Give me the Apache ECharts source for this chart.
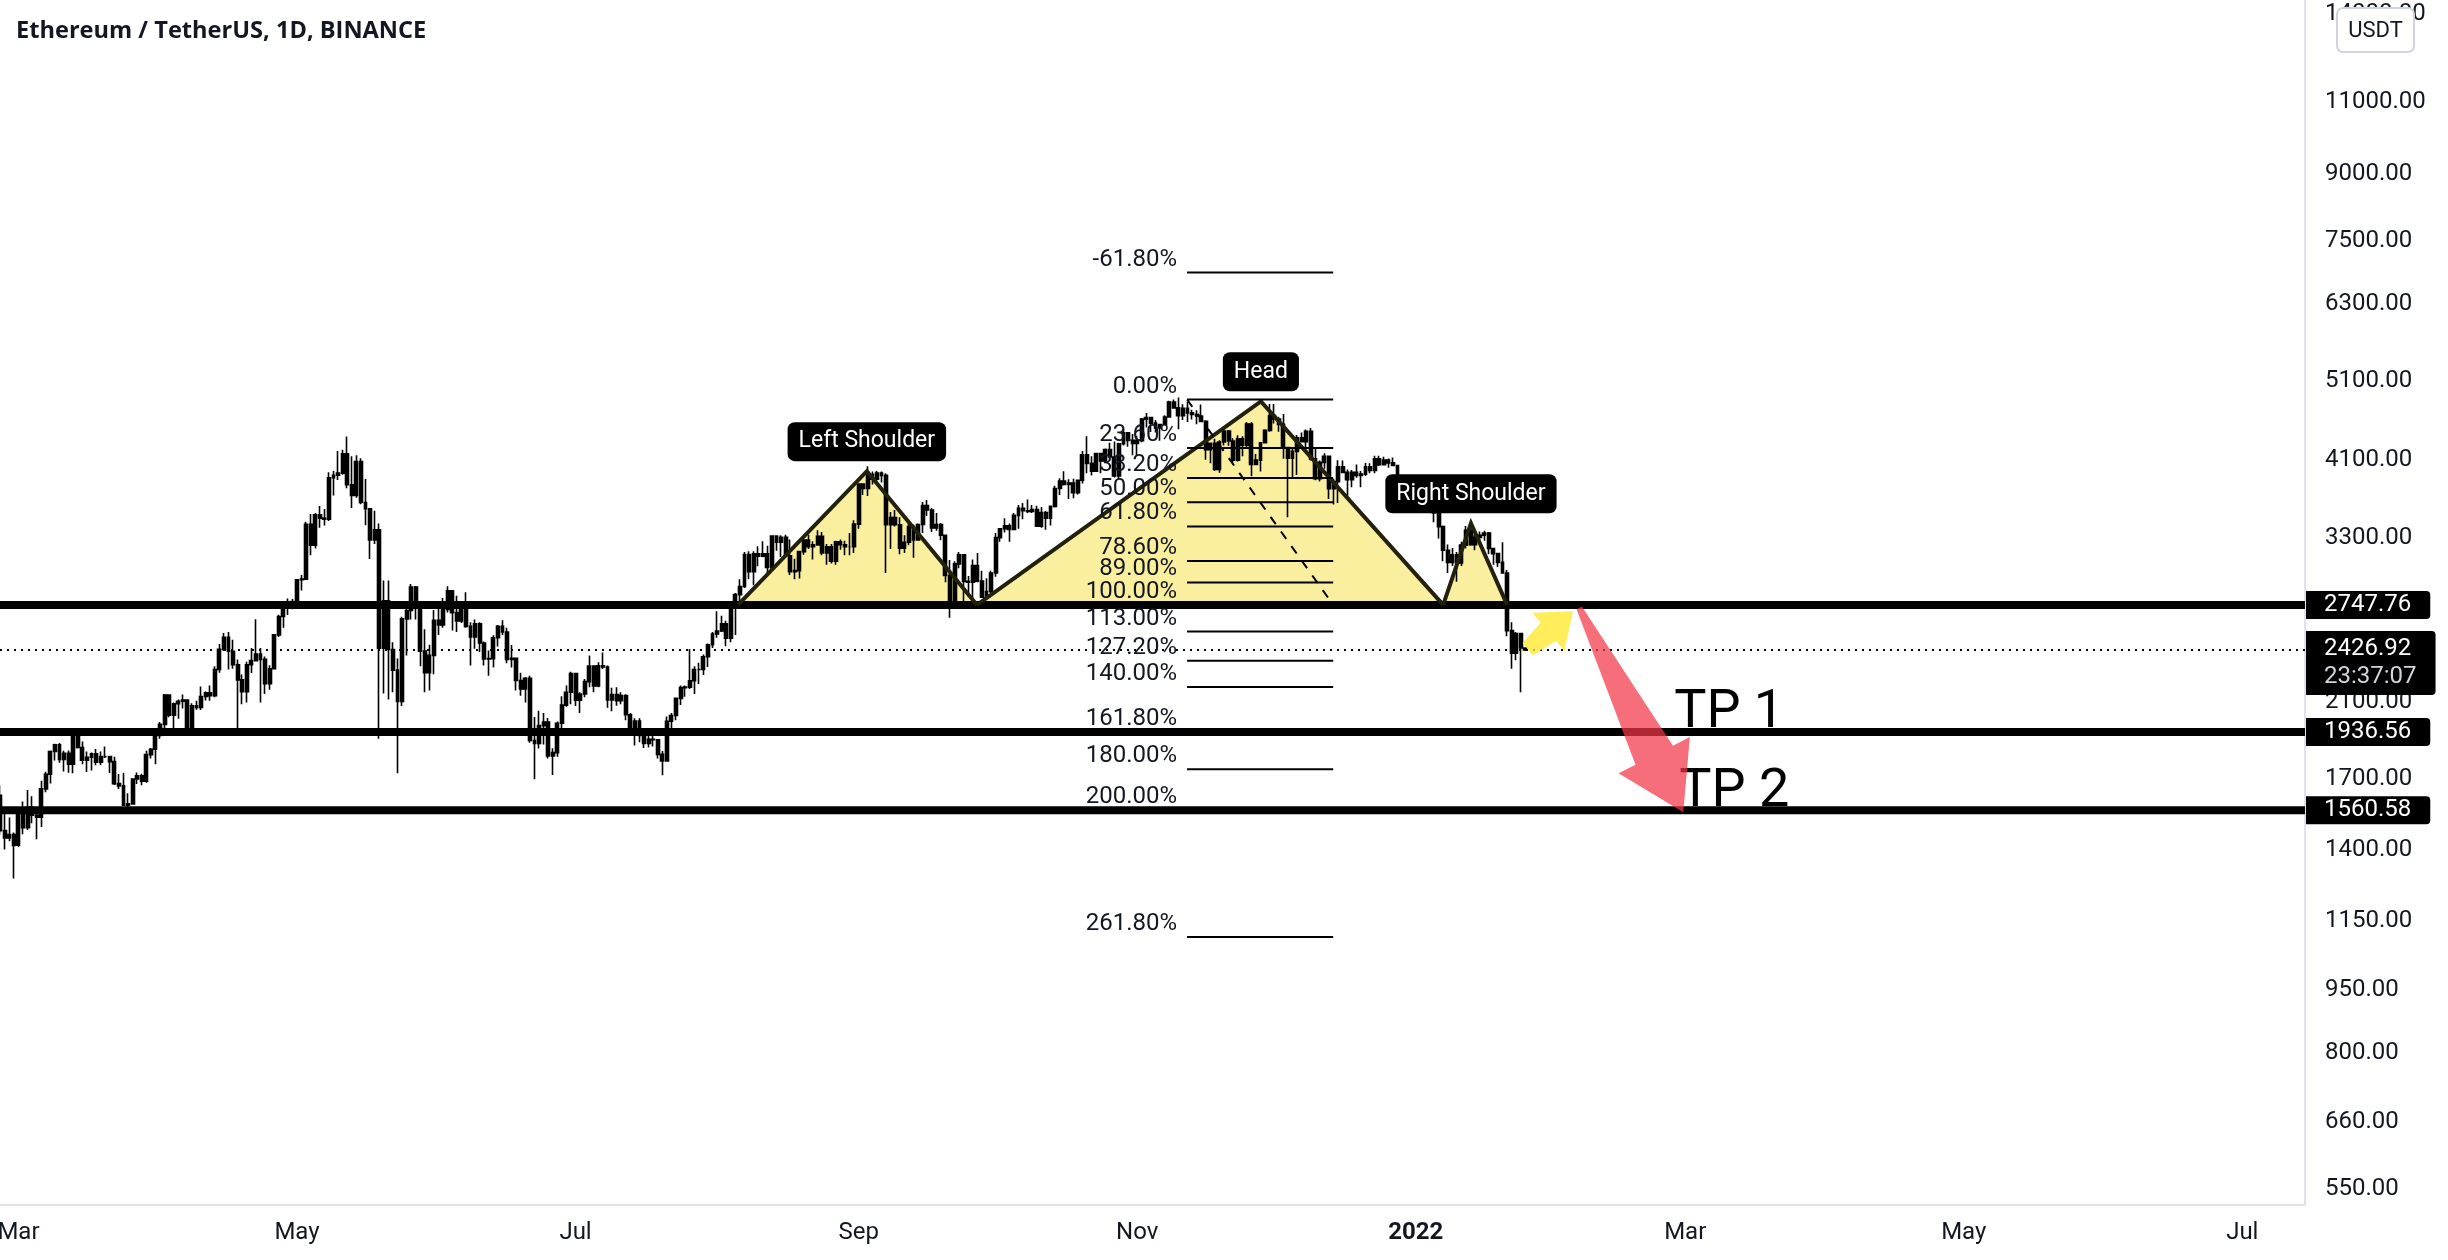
<!DOCTYPE html>
<html><head><meta charset="utf-8">
<script src="https://cdn.jsdelivr.net/npm/echarts@6/dist/echarts.min.js"></script>
<style>html,body{margin:0;padding:0;background:#fff}#c{width:2448px;height:1260px}</style>
</head><body><div id="c"></div>
<script>
// ---- daily candles ETH/USDT: [day, open, high, low, close]
const feb2021 = [[25,1626,1672,1458,1475],[26,1475,1559,1400,1446],[27,1446,1530,1433,1459],[28,1459,1468,1293,1416]];
const mar2021 = [[1,1417,1573,1410,1565],[2,1565,1598,1461,1487],[3,1487,1650,1478,1573],[4,1573,1622,1505,1539],[5,1539,1546,1441,1531],[6,1531,1692,1490,1655],[7,1655,1735,1640,1723],[8,1723,1840,1680,1835],[9,1835,1874,1790,1869],[10,1869,1878,1779,1795],[11,1795,1838,1736,1825],[12,1825,1840,1730,1771],[13,1771,1947,1728,1924],[14,1924,1935,1850,1855],[15,1855,1886,1771,1791],[16,1791,1834,1734,1806],[17,1806,1830,1741,1823],[18,1823,1847,1766,1781],[19,1781,1835,1768,1809],[20,1809,1860,1802,1809],[21,1809,1813,1729,1784],[22,1784,1808,1673,1679],[23,1679,1724,1655,1669],[24,1669,1730,1580,1582],[25,1582,1635,1546,1588],[26,1588,1700,1585,1701],[27,1701,1732,1678,1716],[28,1716,1726,1672,1691],[29,1691,1838,1683,1819],[30,1819,1852,1800,1846],[31,1846,1948,1771,1918]];
const apr2021 = [[1,1918,1990,1900,1977],[2,1977,2150,1951,2143],[3,2143,2145,2016,2028],[4,2028,2100,1955,2093],[5,2093,2118,2008,2107],[6,2107,2147,2065,2114],[7,2114,2119,1932,1962],[8,1962,2095,1962,2081],[9,2081,2110,2059,2071],[10,2071,2195,2057,2135],[11,2135,2165,2112,2157],[12,2157,2200,2110,2139],[13,2139,2320,2130,2300],[14,2300,2468,2280,2431],[15,2431,2544,2420,2513],[16,2513,2550,2300,2418],[17,2418,2497,2305,2330],[18,2330,2364,1950,2235],[19,2235,2268,2090,2163],[20,2163,2350,2100,2330],[21,2330,2440,2278,2357],[22,2357,2641,2354,2400],[23,2400,2440,2100,2365],[24,2365,2383,2150,2212],[25,2212,2327,2175,2305],[26,2305,2535,2300,2530],[27,2530,2675,2516,2662],[28,2662,2760,2580,2745],[29,2745,2797,2672,2757],[30,2757,2793,2715,2773]];
const may2021 = [[1,2773,2950,2768,2945],[2,2945,2985,2860,2950],[3,2950,3455,2948,3431],[4,3431,3530,3150,3240],[5,3240,3540,3210,3522],[6,3522,3610,3400,3490],[7,3490,3580,3420,3481],[8,3481,3960,3462,3902],[9,3902,3975,3715,3928],[10,3928,4200,3876,3951],[11,3951,4215,3933,4168],[12,4168,4372,3790,3826],[13,3826,4140,3589,3716],[14,3716,4150,3691,4080],[15,4080,4116,3627,3644],[16,3644,3888,3422,3582],[17,3582,3585,3118,3286],[18,3286,3561,3250,3381],[19,3381,3440,1900,2439],[20,2439,2940,2152,2780],[21,2780,2940,2118,2430],[22,2430,2479,2160,2296],[23,2296,2370,1728,2106],[24,2106,2660,2080,2644],[25,2644,2750,2390,2706],[26,2706,2910,2640,2887],[27,2887,2895,2639,2742],[28,2742,2760,2320,2419],[29,2419,2570,2160,2280],[30,2280,2462,2170,2391],[31,2391,2710,2270,2633]];
const jun2021 = [[1,2633,2740,2530,2600],[2,2600,2800,2580,2713],[3,2713,2892,2691,2856],[4,2856,2858,2560,2690],[5,2690,2818,2550,2630],[6,2630,2748,2614,2712],[7,2712,2845,2580,2590],[8,2590,2620,2325,2516],[9,2516,2640,2435,2609],[10,2609,2620,2413,2474],[11,2474,2485,2326,2367],[12,2367,2424,2260,2370],[13,2370,2527,2313,2510],[14,2510,2600,2450,2590],[15,2590,2635,2530,2550],[16,2550,2580,2340,2364],[17,2364,2460,2312,2372],[18,2372,2374,2170,2231],[19,2231,2280,2140,2180],[20,2180,2253,2100,2244],[21,2244,2260,1880,1891],[22,1891,2017,1700,1876],[23,1876,2052,1850,1970],[24,1970,2040,1870,1990],[25,1990,2012,1800,1812],[26,1812,1851,1720,1829],[27,1829,1993,1808,1983],[28,1983,2137,1933,2085],[29,2085,2200,2075,2160],[30,2160,2285,2090,2275]];
const jul2021 = [[1,2275,2278,2080,2113],[2,2113,2160,2040,2150],[3,2150,2240,2130,2224],[4,2224,2390,2190,2322],[5,2322,2325,2160,2198],[6,2198,2347,2190,2323],[7,2323,2410,2303,2316],[8,2316,2325,2070,2115],[9,2115,2187,2050,2147],[10,2147,2190,2081,2110],[11,2110,2160,2090,2140],[12,2140,2148,2000,2030],[13,2030,2040,1920,1940],[14,1940,2010,1865,1995],[15,1995,2010,1882,1917],[16,1917,1955,1853,1876],[17,1876,1930,1855,1898],[18,1898,1940,1860,1895],[19,1895,1898,1800,1820],[20,1820,1837,1718,1787],[21,1787,2020,1785,1994],[22,1994,2040,1950,2026],[23,2026,2129,2000,2124],[24,2124,2200,2085,2188],[25,2188,2200,2133,2191],[26,2191,2433,2180,2230],[27,2230,2320,2150,2300],[28,2300,2343,2210,2300],[29,2300,2397,2265,2382],[30,2382,2470,2315,2462],[31,2462,2550,2440,2536]];
const aug2021 = [[1,2536,2700,2510,2557],[2,2557,2667,2550,2608],[3,2608,2630,2452,2507],[4,2507,2765,2480,2725],[5,2725,2840,2530,2827],[6,2827,2950,2722,2891],[7,2891,3180,2880,3157],[8,3157,3185,2950,3012],[9,3012,3185,2900,3164],[10,3164,3230,3056,3142],[11,3142,3275,3134,3164],[12,3164,3235,2985,3046],[13,3046,3330,3029,3322],[14,3322,3330,3190,3266],[15,3266,3330,3136,3310],[16,3310,3335,3135,3146],[17,3146,3290,2985,3012],[18,3012,3120,2950,3020],[19,3020,3190,2955,3183],[20,3183,3295,3155,3285],[21,3285,3335,3205,3225],[22,3225,3275,3115,3242],[23,3242,3375,3234,3320],[24,3320,3360,3150,3172],[25,3172,3250,3070,3225],[26,3225,3250,3080,3100],[27,3100,3280,3070,3270],[28,3270,3290,3200,3244],[29,3244,3280,3150,3225],[30,3225,3350,3150,3225],[31,3225,3470,3170,3433]];
const sep2021 = [[1,3433,3840,3390,3834],[2,3834,3840,3720,3788],[3,3788,4027,3710,3937],[4,3937,3970,3830,3887],[5,3887,3975,3860,3952],[6,3952,3970,3850,3927],[7,3927,3950,3000,3428],[8,3428,3550,3205,3496],[9,3496,3570,3410,3427],[10,3427,3500,3160,3212],[11,3212,3330,3170,3266],[12,3266,3440,3240,3410],[13,3410,3430,3130,3286],[14,3286,3440,3280,3430],[15,3430,3650,3350,3614],[16,3614,3670,3510,3569],[17,3569,3590,3360,3398],[18,3398,3540,3370,3430],[19,3430,3445,3285,3330],[20,3330,3330,2925,2980],[21,2980,3110,2652,2764],[22,2764,3100,2738,3077],[23,3077,3180,3040,3155],[24,3155,3160,2750,2932],[25,2932,2975,2810,2926],[26,2926,3115,2740,3063],[27,3063,3170,2925,2934],[28,2934,3020,2800,2807],[29,2807,2957,2790,2851],[30,2851,3020,2840,3001]];
const oct2021 = [[1,3001,3350,2970,3308],[2,3308,3395,3270,3390],[3,3390,3490,3355,3418],[4,3418,3440,3270,3384],[5,3384,3540,3380,3517],[6,3517,3620,3390,3586],[7,3586,3640,3480,3562],[8,3562,3675,3540,3556],[9,3556,3620,3540,3574],[10,3574,3611,3410,3414],[11,3414,3600,3400,3545],[12,3545,3560,3380,3490],[13,3490,3615,3420,3605],[14,3605,3815,3595,3788],[15,3788,3895,3720,3865],[16,3865,3972,3820,3829],[17,3829,3885,3680,3845],[18,3845,3890,3686,3745],[19,3745,3880,3724,3875],[20,3875,4200,3840,4156],[21,4156,4375,3950,4059],[22,4059,4140,3925,3972],[23,3972,4170,3963,4170],[24,4170,4180,3950,4085],[25,4085,4230,4070,4217],[26,4217,4295,4126,4131],[27,4131,4310,3903,3921],[28,3921,4295,3880,4285],[29,4285,4460,4265,4417],[30,4417,4420,4250,4325],[31,4325,4400,4150,4288]];
const nov2021 = [[1,4288,4380,4155,4321],[2,4321,4600,4302,4586],[3,4586,4665,4480,4605],[4,4605,4610,4425,4535],[5,4535,4575,4420,4476],[6,4476,4525,4320,4518],[7,4518,4635,4515,4612],[8,4612,4825,4605,4808],[9,4808,4840,4720,4730],[10,4730,4868,4460,4630],[11,4630,4778,4575,4725],[12,4725,4810,4550,4665],[13,4665,4705,4580,4645],[14,4645,4700,4520,4626],[15,4626,4775,4545,4557],[16,4557,4570,4100,4216],[17,4216,4300,4060,4289],[18,4289,4345,3975,3991],[19,3991,4325,3956,4305],[20,4305,4455,4265,4436],[21,4436,4450,4260,4318],[22,4318,4350,4062,4094],[23,4094,4385,4080,4344],[24,4344,4374,4140,4268],[25,4268,4550,4245,4525],[26,4525,4550,3918,4046],[27,4046,4165,4038,4096],[28,4096,4300,3970,4296],[29,4296,4460,4290,4445],[30,4445,4780,4430,4632]];
const dec2021 = [[1,4632,4780,4530,4587],[2,4587,4615,4430,4519],[3,4519,4650,4110,4240],[4,4240,4240,3500,4118],[5,4118,4225,3900,4195],[6,4195,4390,3930,4355],[7,4355,4420,4300,4310],[8,4310,4455,4200,4433],[9,4433,4475,4090,4110],[10,4110,4225,3875,3890],[11,3890,4090,3860,4070],[12,4070,4175,3998,4140],[13,4140,4140,3680,3785],[14,3785,3890,3625,3860],[15,3860,4095,3640,4020],[16,4020,4090,3950,3960],[17,3960,3990,3690,3880],[18,3880,3985,3800,3960],[19,3960,4045,3900,3925],[20,3925,3975,3800,3940],[21,3940,4063,3920,4020],[22,4020,4060,3950,3980],[23,3980,4145,3950,4110],[24,4110,4145,4030,4045],[25,4045,4135,4040,4095],[26,4095,4115,4010,4065],[27,4065,4125,4030,4035],[28,4035,4040,3760,3795],[29,3795,3830,3600,3630],[30,3630,3765,3590,3715],[31,3715,3815,3620,3680]];
const jan2022 = [[1,3680,3775,3680,3765],[2,3765,3855,3720,3830],[3,3830,3835,3695,3760],[4,3760,3878,3725,3790],[5,3790,3845,3450,3540],[6,3540,3545,3300,3410],[7,3410,3420,3100,3195],[8,3195,3245,3000,3090],[9,3090,3215,3060,3155],[10,3155,3180,2930,3085],[11,3085,3270,3060,3240],[12,3240,3415,3210,3375],[13,3375,3400,3235,3245],[14,3245,3335,3195,3310],[15,3310,3365,3280,3330],[16,3330,3370,3280,3350],[17,3350,3360,3160,3210],[18,3210,3215,3070,3165],[19,3165,3170,3050,3090],[20,3090,3265,3000,3000],[21,3000,3025,2520,2560],[22,2560,2620,2305,2405],[23,2405,2550,2360,2540],[24,2540,2545,2160,2440],[25,2440,2445,2420,2427]];
const monthBlocks = [['2021-02',feb2021],['2021-03',mar2021],['2021-04',apr2021],['2021-05',may2021],['2021-06',jun2021],['2021-07',jul2021],['2021-08',aug2021],['2021-09',sep2021],['2021-10',oct2021],['2021-11',nov2021],['2021-12',dec2021],['2022-01',jan2022]];

// ---- axes
const yTicks = [550,660,800,950,1150,1400,1700,2100,3300,4100,5100,6300,7500,9000,11000,14000];
const xTicks = ['2021-03-01','2021-05-01','2021-07-01','2021-09-01','2021-11-01','2022-01-01','2022-03-01','2022-05-01','2022-07-01'];
const monthNames = ['Jan','Feb','Mar','Apr','May','Jun','Jul','Aug','Sep','Oct','Nov','Dec'];
const xRange = ['2021-02-24T23:02Z','2022-07-14T17:32Z'];
const yRange = [525.7, 14556];

// ---- levels / annotations
const hLevels = [2747.76, 1936.56, 1560.58];
const currentPrice = 2426.92;
const countdown = '23:37:07';
const patternTriangles = [
  [['2021-08-05T14:00Z',2747.76],['2021-09-02T19:00Z',3973],['2021-09-26T22:00Z',2747.76]],
  [['2021-09-26T22:00Z',2747.76],['2021-11-28T02:00Z',4816],['2022-01-07T00:00Z',2747.76]],
  [['2022-01-07T00:00Z',2747.76],['2022-01-13T02:00Z',3441],['2022-01-21T00:00Z',2747.76]]
];
const patternLabels = [['Left Shoulder','2021-09-02T19:00Z',3973],['Head','2021-11-28T02:00Z',4816],['Right Shoulder','2022-01-13T02:00Z',3441]];
const fibRange = ['2021-11-11T22:00Z','2021-12-13T22:00Z'];
const fibLabels = ['-61.80%','0.00%','23.60%','38.20%','50.00%','61.80%','78.60%','89.00%','100.00%','113.00%','127.20%','140.00%','161.80%','180.00%','200.00%','261.80%'];
const fibPrices = [6867,4840,4235,3899,3647,3411,3102,2924,2747.76,2553,2356,2191,1937,1747,1560,1100];
const fibTrend = [['2021-11-11T22:00Z',4840],['2021-12-13T22:00Z',2747.76]];
const yellowArrow = [['2022-01-25T12:00Z',2432],['2022-02-04T10:00Z',2700]];
const redArrow = [['2022-02-05T19:00Z',2725],['2022-02-28T14:00Z',1552]];
const tpLabels = [['TP 1','2022-02-26T14:00Z',1936.56],['TP 2','2022-02-27T17:00Z',1560.58]];

// ---- build
const T = s => Date.parse(s.length === 10 ? s + 'T00:00:00Z' : s);
const candles = [];
monthBlocks.forEach(([ym, rows]) => rows.forEach(r => {
  const t = T(ym + '-' + String(r[0]).padStart(2,'0'));
  candles.push([t, r[1], r[4], r[3], r[2]]);
}));

const FONT = 'Roboto, "Noto Sans", sans-serif';
const chart = echarts.init(document.getElementById('c'), null, {renderer:'canvas'});

function arrowPoints(p0, p1, w0, w1, hw, hl) {
  const dx = p1[0]-p0[0], dy = p1[1]-p0[1], L = Math.hypot(dx,dy);
  const ux = dx/L, uy = dy/L, nx = -uy, ny = ux;
  const bx = p1[0]-ux*hl, by = p1[1]-uy*hl;
  return [[p0[0]+nx*w0/2, p0[1]+ny*w0/2],[bx+nx*w1/2, by+ny*w1/2],[bx+nx*hw/2, by+ny*hw/2],p1,
          [bx-nx*hw/2, by-ny*hw/2],[bx-nx*w1/2, by-ny*w1/2],[p0[0]-nx*w0/2, p0[1]-ny*w0/2]];
}

const option = {
  animation: false,
  backgroundColor: '#fff',
  title: {text:'Ethereum / TetherUS, 1D, BINANCE', left: 11, top: 14,
    textStyle:{fontFamily:'"Open Sans", sans-serif', fontWeight:'bold', fontSize:23.6, color:'#131722'}},
  grid: {left:0, right:143, top:0, bottom:55, containLabel:false, outerBoundsMode:'none'},
  xAxis: {type:'value', min:T(xRange[0]), max:T(xRange[1]), scale:true,
    axisLine:{show:true, lineStyle:{color:'#e0e3eb', width:2}}, axisTick:{show:false}, splitLine:{show:false},
    axisLabel:{customValues: xTicks.map(T), margin:16, fontSize:24, fontFamily:FONT, color:'#131722',
      formatter: v => { const d = new Date(v); return d.getUTCMonth()===0 ? '{b|' + d.getUTCFullYear() + '}' : monthNames[d.getUTCMonth()]; },
      rich:{b:{fontWeight:'bold', fontSize:24, fontFamily:FONT, color:'#131722'}}}},
  yAxis: {type:'log', logBase:10, position:'right', min:yRange[0], max:yRange[1],
    axisLine:{show:true, lineStyle:{color:'#e0e3eb', width:2}}, axisTick:{show:false}, splitLine:{show:false},
    axisLabel:{customValues: yTicks, margin:20, fontSize:24, fontFamily:FONT, color:'#131722', formatter: v => Number(v).toFixed(2)}},
  graphic: [
    {type:'rect', z:100, shape:{x:2337, y:8, width:77, height:44, r:6}, style:{fill:'#fff', stroke:'#d1d4dc', lineWidth:2}},
    {type:'text', z:101, x:2375.5, y:31, style:{text:'USDT', fill:'#131722', font:'22px Roboto', align:'center', verticalAlign:'middle'}}
  ],
  series: [
    { // triangle fills
      type:'custom', z:1, silent:true,
      data: patternTriangles.map((t,i)=>[T(t[0][0]), t[0][1], i]),
      renderItem: (params, api) => {
        const pts = patternTriangles[params.dataIndex].map(p => api.coord([T(p[0]), p[1]]));
        return {type:'polygon', shape:{points:pts}, style:{fill:'rgba(246,226,80,0.55)', stroke:'rgba(120,110,30,0.8)', lineWidth:2, lineDash:[4,6]}};
      }
    },
    { // TP texts
      type:'custom', z:3, silent:true,
      data: tpLabels.map((t,i)=>[T(t[1]), t[2], i]),
      renderItem: (params, api) => {
        const t = tpLabels[params.dataIndex];
        const p = api.coord([T(t[1]), t[2]]);
        return {type:'text', x:p[0], y:p[1]+9, style:{text:t[0], fill:'#000', font:'54px Roboto', align:'left', verticalAlign:'bottom'}};
      }
    },
    {
      type:'candlestick', z:4, data:candles, encode:{x:0, y:[1,2,3,4]}, barWidth:3.4,
      itemStyle:{color:'#000', color0:'#000', borderColor:'#000', borderColor0:'#000', borderWidth:1.6}
    },
    { // horizontal price levels
      type:'custom', z:5, silent:true,
      data: hLevels.map((v,i)=>[T(xRange[0]), v, i]).concat([[T(xRange[0]), currentPrice, 3]]),
      renderItem: (params, api) => {
        const i = params.dataIndex;
        const v = i < 3 ? hLevels[i] : currentPrice;
        const a = api.coord([T(xRange[0]), v]), b = api.coord([T(xRange[1]), v]);
        return {type:'line', shape:{x1:a[0], y1:a[1], x2:b[0], y2:b[1]},
          style: i < 3 ? {stroke:'#000', lineWidth:8} : {stroke:'#000', lineWidth:2, lineDash:[2,5]}};
      }
    },
    { // triangle outlines
      type:'custom', z:6, silent:true,
      data: patternTriangles.map((t,i)=>[T(t[0][0]), t[0][1], i]),
      renderItem: (params, api) => {
        const pts = patternTriangles[params.dataIndex].map(p => api.coord([T(p[0]), p[1]]));
        return {type:'polyline', shape:{points:pts}, style:{fill:null, stroke:'#23210c', lineWidth:4}};
      }
    },
    { // fib levels
      type:'custom', z:7, silent:true,
      data: fibPrices.map((p,i)=>[T(fibRange[0]), p, i]),
      renderItem: (params, api) => {
        const i = params.dataIndex;
        const a = api.coord([T(fibRange[0]), fibPrices[i]]), b = api.coord([T(fibRange[1]), fibPrices[i]]);
        const children = [
          {type:'line', shape:{x1:a[0], y1:a[1], x2:b[0], y2:b[1]}, style:{stroke:'#000', lineWidth:2}},
          {type:'text', x:a[0]-10, y:a[1]-13, style:{text:fibLabels[i], fill:'#131722', font:'24px Roboto', align:'right', verticalAlign:'middle'}}
        ];
        if (i === 0) {
          const s = api.coord([T(fibTrend[0][0]), fibTrend[0][1]]), e = api.coord([T(fibTrend[1][0]), fibTrend[1][1]]);
          children.push({type:'line', shape:{x1:s[0], y1:s[1], x2:e[0], y2:e[1]}, style:{stroke:'#000', lineWidth:2, lineDash:[9,9]}});
        }
        return {type:'group', children};
      }
    },
    { // pattern labels
      type:'custom', z:8, silent:true,
      data: patternLabels.map((l,i)=>[T(l[1]), l[2], i]),
      renderItem: (params, api) => {
        const l = patternLabels[params.dataIndex];
        const p = api.coord([T(l[1]), l[2]]);
        return {type:'text', x:p[0], y:p[1]-10, style:{text:l[0], fill:'#fff', font:'23px Roboto', align:'center', verticalAlign:'bottom',
          backgroundColor:'#000', padding:[8,11,8,11], borderRadius:7}};
      }
    },
    { // arrows
      type:'custom', z:9, silent:true,
      data: [[T(yellowArrow[0][0]), yellowArrow[0][1], 0],[T(redArrow[0][0]), redArrow[0][1], 1]],
      renderItem: (params, api) => {
        const arr = params.dataIndex === 0 ? yellowArrow : redArrow;
        const p0 = api.coord([T(arr[0][0]), arr[0][1]]), p1 = api.coord([T(arr[1][0]), arr[1][1]]);
        const pts = params.dataIndex === 0 ? arrowPoints(p0, p1, 16, 24, 50, 32) : arrowPoints(p0, p1, 6, 42, 80, 64);
        const fill = params.dataIndex === 0 ? 'rgba(255,232,50,0.8)' : 'rgba(242,54,69,0.72)';
        return {type:'polygon', shape:{points:pts}, style:{fill, stroke:null}};
      }
    },
    { // right axis price tags
      type:'custom', z:10, silent:true,
      data: hLevels.map((v,i)=>[T(xRange[1]), v, i]).concat([[T(xRange[1]), currentPrice, 3]]),
      renderItem: (params, api) => {
        const i = params.dataIndex;
        const v = i < 3 ? hLevels[i] : currentPrice;
        const p = api.coord([T(xRange[1]), v]);
        if (i < 3) {
          return {type:'text', x:p[0]+1, y:p[1], style:{text:v.toFixed(2), fill:'#fff', font:'24px Roboto', align:'left', verticalAlign:'middle',
            backgroundColor:'#000', padding:[2,19,2,18], borderRadius:[0,4,4,0]}};
        }
        return {type:'text', x:p[0]+1, y:p[1]-19, style:{text:'{a|' + v.toFixed(2) + '}\n{b|' + countdown + '}', align:'left', verticalAlign:'top',
          backgroundColor:'#000', padding:[4,19,4,18], borderRadius:[0,4,4,0],
          rich:{a:{fill:'#fff', font:'24px Roboto', lineHeight:28}, b:{fill:'#d1d4dc', font:'24px Roboto', lineHeight:28}}}};
      }
    }
  ]
};
chart.setOption(option);
</script></body></html>
